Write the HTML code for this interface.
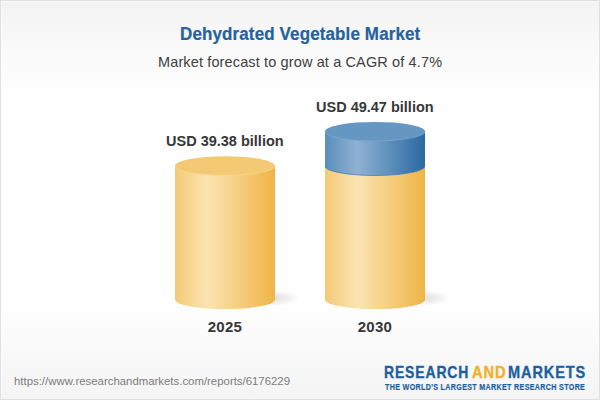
<!DOCTYPE html>
<html><head><meta charset="utf-8">
<style>
html,body{margin:0;padding:0;}
body{width:600px;height:400px;overflow:hidden;position:relative;font-family:"Liberation Sans",sans-serif;
background:linear-gradient(to bottom,#f3f3f3 0px,#f9f9f9 45px,#ffffff 100px,#ffffff 300px,#f9f9f9 350px,#f4f4f4 400px);}
.frame{position:absolute;left:0;top:0;width:598px;height:398px;border:1px solid #e0e0e0;box-shadow:inset 1px 1px 0 rgba(255,255,255,0.55);}
.t{position:absolute;white-space:nowrap;line-height:1;}
#title{left:180px;top:25.5px;font-size:17px;letter-spacing:0.12px;font-weight:bold;color:#2462a0;-webkit-text-stroke:0.2px #2462a0;transform-origin:0 14px;transform:scaleY(1.04);}
#sub{left:158px;top:55px;font-size:14.5px;letter-spacing:0.13px;color:#404040;}
#l1{left:166px;top:134px;font-size:14.5px;font-weight:bold;color:#373737;}
#l2{left:316px;top:100px;font-size:14.5px;font-weight:bold;color:#373737;}
#y1{left:207.7px;top:319px;font-size:15px;letter-spacing:0.3px;font-weight:bold;color:#373737;}
#y2{left:357.7px;top:319px;font-size:15px;letter-spacing:0.3px;font-weight:bold;color:#373737;}
#url{left:14px;top:376px;font-size:11.4px;color:#7c7c7c;}
.lg{top:364px;font-size:16.2px;font-weight:bold;color:#1f5f9f;-webkit-text-stroke:0.35px currentColor;transform-origin:0 0;}
#lg1{left:383.5px;letter-spacing:1px;transform:scaleX(0.862);}
#lg2{left:472.3px;letter-spacing:1px;color:#f0b12c;transform:scaleX(0.91);}
#lg3{left:507.5px;letter-spacing:1px;transform:scaleX(0.897);}
#tag{left:385px;top:383px;font-size:8.4px;letter-spacing:0.4px;transform-origin:0 0;transform:scaleX(0.85);font-weight:bold;color:#1f5f9f;-webkit-text-stroke:0.2px #1f5f9f;}
svg{position:absolute;left:0;top:0;}
</style></head><body>
<div class="frame"></div>
<svg width="600" height="400" viewBox="0 0 600 400">
<defs>
<linearGradient id="gy" x1="0" x2="1" y1="0" y2="0">
<stop offset="0" stop-color="#f4ca75"/>
<stop offset="0.32" stop-color="#fbe4b3"/>
<stop offset="1" stop-color="#efb445"/>
</linearGradient>
<linearGradient id="gb" x1="0" x2="1" y1="0" y2="0">
<stop offset="0" stop-color="#5a8dbb"/>
<stop offset="0.32" stop-color="#8fb2d2"/>
<stop offset="1" stop-color="#2a69a2"/>
</linearGradient>
<radialGradient id="sh" cx="0.5" cy="0.5" r="0.5">
<stop offset="0" stop-color="#000" stop-opacity="0.13"/>
<stop offset="0.6" stop-color="#000" stop-opacity="0.06"/>
<stop offset="1" stop-color="#000" stop-opacity="0"/>
</radialGradient>
</defs>
<ellipse cx="272" cy="298" rx="28" ry="8" fill="url(#sh)"/>
<ellipse cx="422" cy="298" rx="28" ry="8" fill="url(#sh)"/>
<path d="M175 165.8 L175 299.6 A50 9.5 0 0 0 275 299.6 L275 165.8 Z" fill="url(#gy)"/>
<ellipse cx="225" cy="165.8" rx="50" ry="9.5" fill="#f3ca73"/>
<path d="M175 165.8 A50 9.5 0 0 0 275 165.8" fill="none" stroke="#f7d58e" stroke-width="0.8"/>
<path d="M325 166 L325 299.6 A50 9.5 0 0 0 425 299.6 L425 166 Z" fill="url(#gy)"/>
<path d="M325 131.4 L325 166 A50 9.5 0 0 0 425 166 L425 131.4 Z" fill="url(#gb)"/>
<path d="M325 166 A50 9.5 0 0 0 425 166" fill="none" stroke="#4a7fb2" stroke-width="0.8"/>
<ellipse cx="375" cy="131.4" rx="50" ry="9.5" fill="#6597c2"/>
<path d="M325 131.4 A50 9.5 0 0 0 425 131.4" fill="none" stroke="#7ba6cc" stroke-width="0.8"/>
</svg>
<div class="t" id="title">Dehydrated Vegetable Market</div>
<div class="t" id="sub">Market forecast to grow at a CAGR of 4.7%</div>
<div class="t" id="l1">USD 39.38 billion</div>
<div class="t" id="l2">USD 49.47 billion</div>
<div class="t" id="y1">2025</div>
<div class="t" id="y2">2030</div>
<div class="t" id="url">https://www.researchandmarkets.com/reports/6176229</div>
<div class="t lg" id="lg1">RESEARCH</div>
<div class="t lg" id="lg2">AND</div>
<div class="t lg" id="lg3">MARKETS</div>
<div class="t" id="tag">THE WORLD'S LARGEST MARKET RESEARCH STORE</div>
</body></html>
